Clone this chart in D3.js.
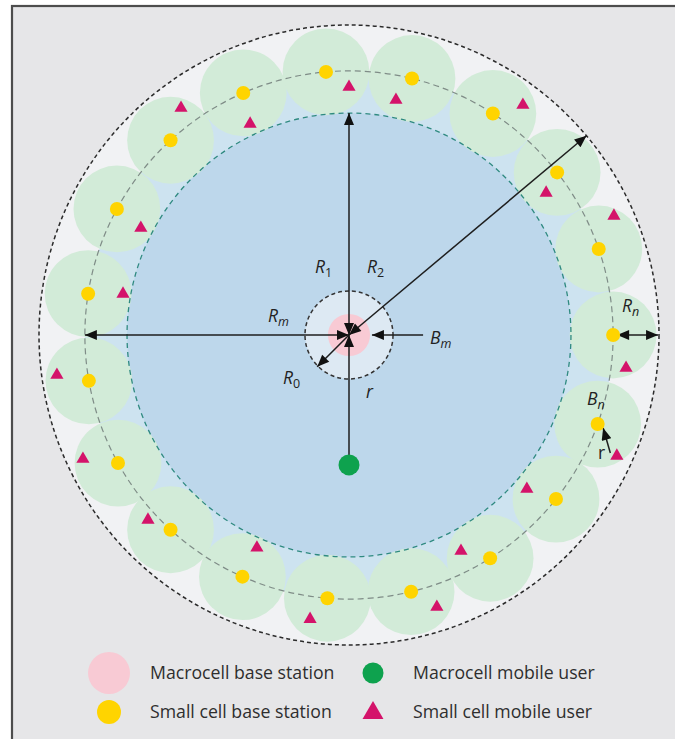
<!DOCTYPE html>
<html>
<head>
<meta charset="utf-8">
<script src="https://cdn.jsdelivr.net/npm/d3@7"></script>
<style>
  body { margin: 0; background: #fff; }
  svg { display: block; }
</style>
</head>
<body>
<div id="chart"></div>
<script>
// Model units: outer coverage radius = 100
// Small cell base stations (angle in degrees, clockwise from east)
var smallCellAngles = [0, 19.7, 38.4, 57.7, 76.4, 94.7, 113.8, 132.5, 151, 170,
                       189, 208.5, 227.5, 246.4, 265, 283.8, 303, 322, 341];
// Small cell mobile users (angle, distance from macro BS)
var smallUserAngles = [233.5, 244.9, 207.2, 190.3, 270, 281.3, 307.1, 324.2, 335.8, 6.8,
                       24.3, 40.9, 62.6, 72.1, 97.8, 113.4, 137.4, 155, 172.2];
var smallUserDists  = [91.1, 75.2, 75.5, 74.1, 80, 77.3, 93, 78.4, 93.7, 90,
                       94.8, 75.9, 78.5, 92.2, 92.5, 74.8, 88.1, 94.7, 95.1];
// Macrocell mobile user
var macroUserAngle = 90, macroUserDist = 41.9;
// Radii
var radiusNames  = ["outer", "ring", "macro", "inner", "smallCell", "bs"];
var radiusValues = [100, 85.2, 71.6, 14.2, 14, 6.8];
// Legend
var legendLabels = ["Macrocell base station", "Small cell base station",
                    "Macrocell mobile user", "Small cell mobile user"];
var legendKinds  = ["macroBS", "smallBS", "macroUser", "smallUser"];

var R = {};
radiusNames.forEach(function(n, i) { R[n] = radiusValues[i]; });

var width = 675, height = 739;
var cx = 349, cy = 335;

var rScale = d3.scaleLinear().domain([0, 100]).range([0, 310]);
function pt(angle, dist) {
  var a = angle * Math.PI / 180;
  return [cx + rScale(dist) * Math.cos(a), cy + rScale(dist) * Math.sin(a)];
}

var colors = {
  panel: "#e6e6e8", outer: "#f1f2f4", gap: "#cde3f0", macro: "#bdd7eb",
  green: "#d2ebd8", inner: "#dde9f3", pink: "#f8cad4", yellow: "#ffd400",
  magenta: "#d4136a", user: "#0ea24e", ink: "#222"
};

var svg = d3.select("#chart").append("svg")
  .attr("width", width)
  .attr("height", height);

// panel
svg.append("rect")
  .attr("x", 12).attr("y", 6)
  .attr("width", 720).attr("height", 800)
  .attr("fill", colors.panel)
  .attr("stroke", "#4d4d4d")
  .attr("stroke-width", 2.2);

var defs = svg.append("defs");
defs.append("marker")
  .attr("id", "head")
  .attr("viewBox", "0 0 12 10")
  .attr("refX", 12).attr("refY", 5)
  .attr("markerWidth", 13).attr("markerHeight", 10)
  .attr("markerUnits", "userSpaceOnUse")
  .attr("orient", "auto-start-reverse")
  .append("path")
    .attr("d", "M0,0L12,5L0,10Z")
    .attr("fill", "#111");

var g = svg.append("g");

// Discs
g.append("circle").attr("cx", cx).attr("cy", cy).attr("r", rScale(R.outer))
  .attr("fill", colors.outer);
g.append("circle").attr("cx", cx).attr("cy", cy).attr("r", rScale(R.ring))
  .attr("fill", colors.gap);
g.append("circle").attr("cx", cx).attr("cy", cy).attr("r", rScale(R.macro))
  .attr("fill", colors.macro);

// small cell coverage
g.selectAll(".cell")
  .data(smallCellAngles)
  .join("circle")
    .attr("class", "cell")
    .attr("cx", d => pt(d, R.ring)[0])
    .attr("cy", d => pt(d, R.ring)[1])
    .attr("r", rScale(R.smallCell))
    .attr("fill", colors.green);

// dashed boundaries
g.append("circle").attr("cx", cx).attr("cy", cy).attr("r", rScale(R.outer))
  .attr("fill", "none").attr("stroke", "#2b2b2b")
  .attr("stroke-width", 1.5).attr("stroke-dasharray", "4,3");
g.append("circle").attr("cx", cx).attr("cy", cy).attr("r", rScale(R.ring))
  .attr("fill", "none").attr("stroke", "#7f8c87")
  .attr("stroke-width", 1.2).attr("stroke-dasharray", "6,4");
g.append("circle").attr("cx", cx).attr("cy", cy).attr("r", rScale(R.macro))
  .attr("fill", "none").attr("stroke", "#2f8a80")
  .attr("stroke-width", 1.3).attr("stroke-dasharray", "5,4");
g.append("circle").attr("cx", cx).attr("cy", cy).attr("r", rScale(R.inner))
  .attr("fill", colors.inner).attr("stroke", "#333")
  .attr("stroke-width", 1.5).attr("stroke-dasharray", "4,3");
g.append("circle").attr("cx", cx).attr("cy", cy).attr("r", rScale(R.bs))
  .attr("fill", colors.pink);

// Arrows: [fromAngle, fromDist, toAngle, toDist, startHead, endHead]
var arrows = [
  [270, 0, 270, R.macro, true, true],       // R1
  [180, 0, 180, R.ring, true, true],        // Rm
  [-40, 0, -40, R.outer, true, true],       // R2
  [135, 0, 135, 14.5, false, true],         // R0
  [90, 0, macroUserAngle, macroUserDist, true, false], // r
  [0, 23.9, 0, 7.4, false, true],           // Bm
  [0, 86.5, 0, 99.7, true, true],           // Rn
  [24.3, 92.5, 20.1, 87.3, false, true]     // small cell r
];
g.selectAll(".arrow")
  .data(arrows)
  .join("line")
    .attr("class", "arrow")
    .attr("x1", d => pt(d[0], d[1])[0])
    .attr("y1", d => pt(d[0], d[1])[1])
    .attr("x2", d => pt(d[2], d[3])[0])
    .attr("y2", d => pt(d[2], d[3])[1])
    .attr("stroke", "#1e1e1e")
    .attr("stroke-width", 1.5)
    .attr("marker-start", d => d[4] ? "url(#head)" : null)
    .attr("marker-end", d => d[5] ? "url(#head)" : null);

// macro user
g.append("circle")
  .attr("cx", pt(macroUserAngle, macroUserDist)[0])
  .attr("cy", pt(macroUserAngle, macroUserDist)[1])
  .attr("r", 10.5)
  .attr("fill", colors.user);

// small cell BS
g.selectAll(".sbs")
  .data(smallCellAngles)
  .join("circle")
    .attr("class", "sbs")
    .attr("cx", d => pt(d, R.ring)[0])
    .attr("cy", d => pt(d, R.ring)[1])
    .attr("r", 7)
    .attr("fill", colors.yellow);

// small cell users
var tri = d3.symbol(d3.symbolTriangle, 75);
g.selectAll(".su")
  .data(smallUserAngles)
  .join("path")
    .attr("class", "su")
    .attr("d", tri)
    .attr("transform", (d, i) => "translate(" + pt(d, smallUserDists[i]) + ")")
    .attr("fill", colors.magenta);

// Labels: [main, sub, italic, dx, dy] offsets from macro BS in px
var labels = [
  ["R", "1", true, -34, -62],
  ["R", "2", true, 18, -62],
  ["R", "m", true, -81, -13],
  ["B", "m", true, 81, 9],
  ["R", "0", true, -66, 49],
  ["r", "", true, 17, 63],
  ["R", "n", true, 273, -23],
  ["B", "n", true, 238, 70],
  ["r", "", false, 249, 124]
];
var lab = g.selectAll(".lab")
  .data(labels)
  .join("text")
    .attr("class", "lab")
    .attr("x", d => cx + d[3])
    .attr("y", d => cy + d[4])
    .style("font-family", "'Open Sans', sans-serif")
    .style("font-size", "17.5px")
    .style("font-style", d => d[2] ? "italic" : "normal")
    .attr("fill", "#222");
lab.append("tspan").text(d => d[0]);
lab.append("tspan")
  .attr("dy", 4)
  .style("font-size", "12.5px")
  .style("font-style", d => /\d/.test(d[1]) ? "normal" : null)
  .text(d => d[1]);

// Legend
var legX = [109, 373], legTextX = [150, 413], legY = [673, 712];
var leg = svg.selectAll(".leg")
  .data(legendLabels)
  .join("g")
    .attr("class", "leg")
    .attr("transform", (d, i) => "translate(0," + legY[i % 2] + ")");

leg.each(function(d, i) {
  var sel = d3.select(this);
  var col = Math.floor(i / 2);
  var k = legendKinds[i];
  if (k === "macroBS") {
    sel.append("circle").attr("cx", legX[col]).attr("r", 21).attr("fill", colors.pink);
  } else if (k === "smallBS") {
    sel.append("circle").attr("cx", legX[col]).attr("r", 12).attr("fill", colors.yellow);
  } else if (k === "macroUser") {
    sel.append("circle").attr("cx", legX[col]).attr("r", 10.5).attr("fill", colors.user);
  } else {
    sel.append("path").attr("d", d3.symbol(d3.symbolTriangle, 190))
      .attr("transform", "translate(" + legX[col] + ",1)")
      .attr("fill", colors.magenta);
  }
  sel.append("text")
    .attr("x", legTextX[col])
    .attr("y", 6)
    .style("font-family", "'Open Sans', sans-serif")
    .style("font-size", "17.7px")
    .attr("fill", "#2e2e2e")
    .text(d);
});
</script>
</body>
</html>
